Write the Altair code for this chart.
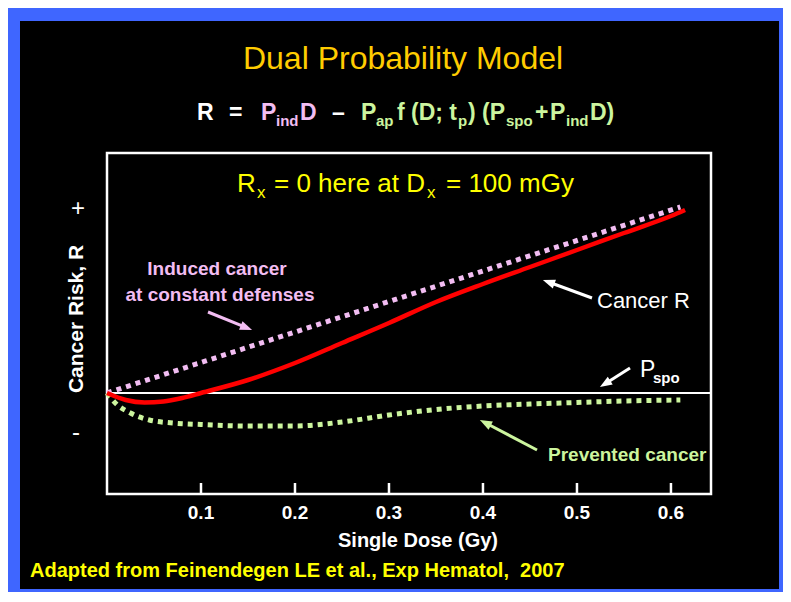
import altair as alt
import pandas as pd
import numpy as np

# ---------------- data ----------------
dose_induced = [0.0, 0.1, 0.2, 0.3, 0.4, 0.5, 0.61]
risk_induced = [0.0, 0.305, 0.61, 0.915, 1.22, 1.525, 1.86]

dose_cancer = [0.0, 0.02, 0.04, 0.06, 0.08, 0.10, 0.15, 0.20, 0.25, 0.30,
               0.35, 0.40, 0.45, 0.50, 0.55, 0.60, 0.615]
risk_cancer = [0.0, -0.07, -0.095, -0.085, -0.05, 0.0, 0.13, 0.30, 0.50, 0.70,
               0.91, 1.09, 1.26, 1.43, 1.60, 1.77, 1.83]

dose_prevented = [0.0, 0.01, 0.025, 0.045, 0.07, 0.10, 0.15, 0.20, 0.25, 0.30,
                  0.35, 0.40, 0.45, 0.50, 0.55, 0.61]
risk_prevented = [0.0, -0.11, -0.20, -0.27, -0.30, -0.315, -0.33, -0.33, -0.29, -0.22,
                  -0.165, -0.13, -0.11, -0.095, -0.08, -0.07]

x_ticks = [0.1, 0.2, 0.3, 0.4, 0.5, 0.6]
x_tick_labels = ["0.1", "0.2", "0.3", "0.4", "0.5", "0.6"]

# ---------------- layout / style ----------------
PINK = "#f2bdf2"
GREEN = "#ccf59e"
RED = "#ff0000"
WHITE = "#ffffff"
YELLOW = "#ffff00"
GOLD = "#ffcc00"
BLUE = "#3f66ff"
SANS = "Liberation Sans, Arial, Helvetica, sans-serif"

OX, OY = 107, 153          # page position of plot origin
W, H = 604, 341
SVG_W, SVG_H = 775, 584
PAD = {"left": OX - 8, "top": OY - 8,
       "right": SVG_W - (OX - 8) - W, "bottom": SVG_H - (OY - 8) - H}

xscale = alt.Scale(domain=[0, 0.6426], nice=False, zero=False)
yscale = alt.Scale(domain=[-1.01, 2.40], nice=False, zero=False)

one = pd.DataFrame({"a": [0]})

panel = alt.Chart(one).mark_rect(color="black").encode(
    x=alt.value(20 - OX), x2=alt.value(779 - OX), y=alt.value(21 - OY), y2=alt.value(589 - OY))

frame = alt.Chart(one).mark_rect(filled=False, stroke=WHITE, strokeWidth=2.5).encode(
    x=alt.value(0), x2=alt.value(W), y=alt.value(0), y2=alt.value(H))

zero_line = alt.Chart(pd.DataFrame({"r": [0.0]})).mark_rule(color=WHITE, strokeWidth=2).encode(
    y=alt.Y("r:Q", scale=yscale, axis=None), x=alt.value(0), x2=alt.value(W))

tick_df = pd.DataFrame({"d": x_ticks, "lab": x_tick_labels})
ticks = alt.Chart(tick_df).mark_rule(color=WHITE, strokeWidth=2.5).encode(
    x=alt.X("d:Q", scale=xscale, axis=None), y=alt.value(H), y2=alt.value(H - 11))

tick_labels = alt.Chart(tick_df).mark_text(
    font=SANS, fontWeight="bold", fontSize=19, color=WHITE, baseline="alphabetic").encode(
    x=alt.X("d:Q", scale=xscale, axis=None), y=alt.value(519 - OY), text="lab:N")


def curve(d, r, **kw):
    df = pd.DataFrame({"d": d, "r": r})
    return alt.Chart(df).mark_line(interpolate="monotone", **kw).encode(
        x=alt.X("d:Q", scale=xscale, axis=None),
        y=alt.Y("r:Q", scale=yscale, axis=None))


green_line = curve(dose_prevented, risk_prevented, color=GREEN, strokeWidth=5,
                   strokeDash=[5, 5], strokeCap="butt")
pink_line = curve(dose_induced, risk_induced, color=PINK, strokeWidth=5,
                  strokeDash=[5, 5], strokeCap="butt")
red_line = curve(dose_cancer, risk_cancer, color=RED, strokeWidth=4.5)


def text_layer(rows, weight, align, baseline="alphabetic", angle=None):
    df = pd.DataFrame(rows, columns=["t", "x", "y", "s", "c"])
    df["x"] = df["x"] - OX
    df["y"] = df["y"] - OY
    kw = dict(font=SANS, fontWeight=weight, align=align, baseline=baseline)
    if angle is not None:
        kw["angle"] = angle
    return alt.Chart(df).mark_text(**kw).encode(
        x=alt.X("x:Q", scale=None, axis=None),
        y=alt.Y("y:Q", scale=None, axis=None),
        text="t:N",
        color=alt.Color("c:N", scale=None),
        size=alt.Size("s:Q", scale=None))


t_reg_left = text_layer([
    ("R", 237, 192, 26, YELLOW), ("x", 257, 198, 17, YELLOW),
    ("= 0 here at D", 274, 192, 26, YELLOW), ("x", 427, 198, 17, YELLOW),
    ("= 100 mGy", 446, 192, 26, YELLOW),
    ("Cancer R", 597, 308, 22, WHITE),
    ("P", 640, 377, 23, WHITE),
], "normal", "left")

t_reg_center = text_layer([
    ("Dual Probability Model", 403, 69, 32, GOLD),
    ("+", 78, 216, 24, WHITE),
    ("-", 76, 440, 24, WHITE),
], "normal", "center")

t_bold_left = text_layer([
    ("spo", 653, 383, 15, WHITE),
    ("Adapted from Feinendegen LE et al., Exp Hematol,\u00a0 2007", 30, 577, 20, YELLOW),
    ("Prevented cancer", 548, 461, 19, GREEN),
], "bold", "left")

t_bold_center = text_layer([
    ("Single Dose (Gy)", 418, 547, 20, WHITE),
    ("Induced cancer", 217, 275, 19, PINK),
    ("at constant defenses", 220, 301, 19, PINK),
], "bold", "center")

t_ylabel = text_layer([
    ("Cancer Risk, R", 77, 319, 21, WHITE),
], "bold", "center", baseline="middle", angle=270)

SUB = 126
BASE = 120
ES, SS = 23, 15
t_equation = text_layer([
    ("R", 197, BASE, ES, WHITE), ("=", 229, BASE, ES, WHITE),
    ("P", 261, BASE, ES, PINK), ("ind", 276, SUB, SS, PINK), ("D", 300, BASE, ES, PINK),
    ("\u2013", 332, BASE, ES, WHITE),
    ("P", 361, BASE, ES, GREEN), ("ap", 376, SUB, SS, GREEN),
    ("f (D; t", 397, BASE, ES, GREEN), ("p", 458, SUB, SS, GREEN),
    (")", 468, BASE, ES, GREEN), ("(P", 482, BASE, ES, GREEN), ("spo", 506, SUB, SS, GREEN),
    ("+", 535, BASE, ES, GREEN), ("P", 550, BASE, ES, GREEN), ("ind", 566, SUB, SS, GREEN),
    ("D)", 590, BASE, ES, GREEN),
], "bold", "left")

# arrows (page pixel positions of tail and head)
arrow_tail = [(208, 312), (592, 298), (630, 368), (537, 450)]
arrow_head = [(252, 330), (543, 280), (600, 387), (480, 420)]
arrow_col = [PINK, WHITE, WHITE, GREEN]
shaft_rows, head_rows = [], []
for (x1, y1), (x2, y2), c in zip(arrow_tail, arrow_head, arrow_col):
    dx, dy = x2 - x1, y2 - y1
    L = np.hypot(dx, dy)
    ux, uy = dx / L, dy / L
    shaft_rows.append({"x": x1 - OX, "y": y1 - OY, "x2": x2 - 8 * ux - OX, "y2": y2 - 8 * uy - OY, "c": c})
    ang = (np.degrees(np.arctan2(dx, -dy)) + 360) % 360
    head_rows.append({"x": x2 - 6 * ux - OX, "y": y2 - 6 * uy - OY, "a": ang, "c": c})

shafts = alt.Chart(pd.DataFrame(shaft_rows)).mark_rule(strokeWidth=3).encode(
    x=alt.X("x:Q", scale=None, axis=None), y=alt.Y("y:Q", scale=None, axis=None),
    x2="x2:Q", y2="y2:Q", color=alt.Color("c:N", scale=None))

heads = alt.Chart(pd.DataFrame(head_rows)).mark_point(
    shape="M0,-1L0.75,1L-0.75,1Z", filled=True, size=150, opacity=1).encode(
    x=alt.X("x:Q", scale=None, axis=None), y=alt.Y("y:Q", scale=None, axis=None),
    angle=alt.Angle("a:Q", scale=None), color=alt.Color("c:N", scale=None))

chart = alt.layer(
    panel, frame, zero_line, ticks, tick_labels, green_line, pink_line, red_line,
    t_reg_left, t_reg_center, t_bold_left, t_bold_center, t_ylabel, t_equation,
    shafts, heads,
).properties(
    width=W, height=H, autosize="none", padding=PAD, background=BLUE
).configure_view(stroke=None)

chart.save("out.html", embed_options={"renderer": "svg", "actions": False})
